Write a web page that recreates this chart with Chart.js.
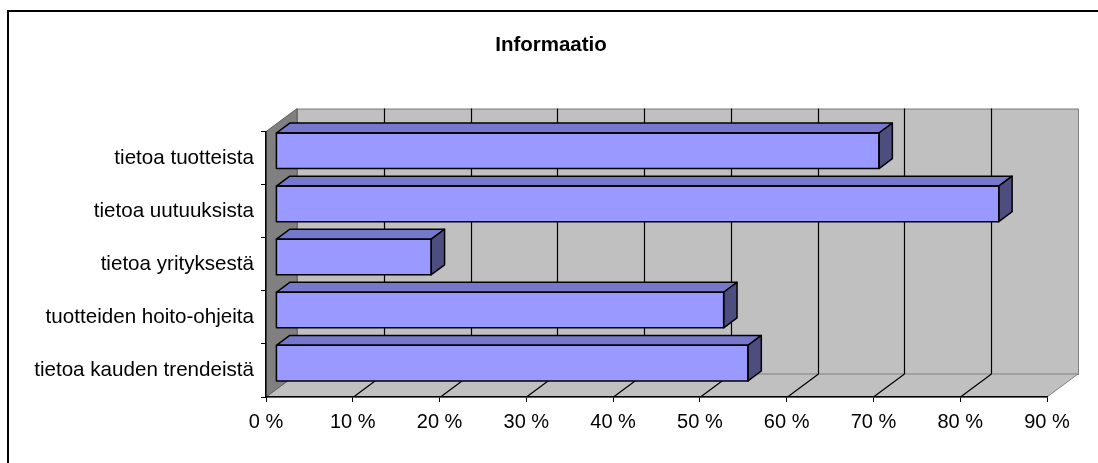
<!DOCTYPE html>
<html>
<head>
<meta charset="utf-8">
<script src="https://cdn.jsdelivr.net/npm/chart.js@4/dist/chart.umd.min.js"></script>
<style>
  html, body { margin: 0; padding: 0; background: #fff; }
  canvas { display: block; }
</style>
</head>
<body>
<canvas id="informaatioChart" width="1098" height="463"></canvas>
<script>
const otsikko = "Informaatio"
const kategoriat = ["tietoa tuotteista", "tietoa uutuuksista", "tietoa yrityksestä", "tuotteiden hoito-ohjeita", "tietoa kauden trendeistä"]
const osuudet = [69.5, 83.3, 17.9, 51.6, 54.4]
const asteikko = { min: 0, max: 90, askel: 10 }

// 3D-vaikutelma: takaseinän siirto ja palkkien paikka syvyydessä
const SYV_X = 31, SYV_Y = -23
const PALKKI_PAIKKA = 0.32
const PALKKI_SYVYYS = 0.43

const kolmiulotteinen = {
  id: "kolmiulotteinen",
  afterLayout(chart) {
    // otsikko keskelle koko kuvaa, ei pelkän piirtoalueen päälle
    const t = chart.titleBlock
    if (t) {
      t.left = 4
      t.right = chart.width
      t.width = t.right - t.left
    }
  },
  beforeDraw(chart) {
    const { ctx, chartArea: a, scales: { x } } = chart
    ctx.save()

    // kehys
    ctx.strokeStyle = "#000"
    ctx.lineWidth = 2
    ctx.strokeRect(8, 11, 1200, 600)

    // takaseinä
    ctx.lineWidth = 1
    ctx.fillStyle = "#c0c0c0"
    ctx.strokeStyle = "#808080"
    ctx.fillRect(a.left + SYV_X, a.top + SYV_Y, a.width, a.height)
    ctx.strokeRect(a.left + SYV_X + 0.5, a.top + SYV_Y + 0.5, a.width, a.height)

    // lattia
    ctx.beginPath()
    ctx.moveTo(a.left, a.bottom)
    ctx.lineTo(a.left + SYV_X, a.bottom + SYV_Y)
    ctx.lineTo(a.right + SYV_X, a.bottom + SYV_Y)
    ctx.lineTo(a.right, a.bottom)
    ctx.closePath()
    ctx.fill()
    ctx.stroke()

    // vasen seinä
    ctx.fillStyle = "#808080"
    ctx.beginPath()
    ctx.moveTo(a.left, a.top)
    ctx.lineTo(a.left + SYV_X, a.top + SYV_Y)
    ctx.lineTo(a.left + SYV_X, a.bottom + SYV_Y)
    ctx.lineTo(a.left, a.bottom)
    ctx.closePath()
    ctx.fill()
    ctx.strokeStyle = "#606060"
    ctx.stroke()

    // apuviivat
    ctx.strokeStyle = "#000"
    ctx.lineWidth = 1.2
    x.ticks.forEach(t => {
      if (t.value <= asteikko.min || t.value >= asteikko.max) return
      const px = Math.round(x.getPixelForValue(t.value)) + 0.5
      ctx.beginPath()
      ctx.moveTo(px + SYV_X, a.top + SYV_Y)
      ctx.lineTo(px + SYV_X, a.bottom + SYV_Y)
      ctx.moveTo(px, a.bottom)
      ctx.lineTo(px + SYV_X, a.bottom + SYV_Y)
      ctx.stroke()
    })
    ctx.restore()
  },
  beforeDatasetsDraw(chart) {
    chart.ctx.save()
    chart.ctx.translate(SYV_X * PALKKI_PAIKKA, SYV_Y * PALKKI_PAIKKA)
  },
  afterDatasetsDraw(chart) {
    const ctx = chart.ctx
    const bx = SYV_X * PALKKI_SYVYYS, by = SYV_Y * PALKKI_SYVYYS
    ctx.strokeStyle = "#000"
    ctx.lineWidth = 1.5
    ctx.lineJoin = "round"
    chart.getDatasetMeta(0).data.forEach(el => {
      const { x, y, base, height } = el.getProps(["x", "y", "base", "height"], true)
      const yla = y - height / 2, ala = y + height / 2
      // yläpinta
      ctx.fillStyle = "#7777cc"
      ctx.beginPath()
      ctx.moveTo(base, yla)
      ctx.lineTo(base + bx, yla + by)
      ctx.lineTo(x + bx, yla + by)
      ctx.lineTo(x, yla)
      ctx.closePath()
      ctx.fill()
      ctx.stroke()
      // sivupinta
      ctx.fillStyle = "#4d4d80"
      ctx.beginPath()
      ctx.moveTo(x, yla)
      ctx.lineTo(x + bx, yla + by)
      ctx.lineTo(x + bx, ala + by)
      ctx.lineTo(x, ala)
      ctx.closePath()
      ctx.fill()
      ctx.stroke()
      // etupinnan reunat
      ctx.strokeRect(base, yla, x - base, height)
    })
    ctx.restore()
  }
}

Chart.defaults.color = "#000"
Chart.defaults.font.family = "'Liberation Sans', Arial, sans-serif"
Chart.defaults.font.size = 20

new Chart(document.getElementById("informaatioChart"), {
  type: "bar",
  data: {
    labels: kategoriat,
    datasets: [{
      data: osuudet,
      backgroundColor: "#9999ff",
      borderWidth: 0,
      borderSkipped: false,
      categoryPercentage: 1,
      barPercentage: 0.67
    }]
  },
  options: {
    indexAxis: "y",
    responsive: false,
    animation: false,
    events: [],
    layout: { padding: { left: 0, right: 51, top: 0, bottom: 0 } },
    plugins: {
      legend: { display: false },
      tooltip: { enabled: false },
      title: {
        display: true,
        text: otsikko,
        font: { size: 20.5, weight: "bold" },
        padding: { top: 33, bottom: 74 }
      }
    },
    scales: {
      x: {
        min: asteikko.min,
        max: asteikko.max,
        ticks: { stepSize: asteikko.askel, padding: 8, callback: v => v + " %" },
        grid: { drawOnChartArea: false, drawTicks: true, tickLength: 5, color: "#000" },
        border: { display: true, color: "#000", width: 1.5 },
        afterFit: s => { s.height = 66 }
      },
      y: {
        ticks: { padding: 7, font: { size: 20.6 } },
        grid: { drawOnChartArea: false, drawTicks: true, tickLength: 5, color: "#000" },
        border: { display: true, color: "#000", width: 1.5 },
        afterFit: s => { s.width = 266 }
      }
    }
  },
  plugins: [kolmiulotteinen]
})
</script>
</body>
</html>
